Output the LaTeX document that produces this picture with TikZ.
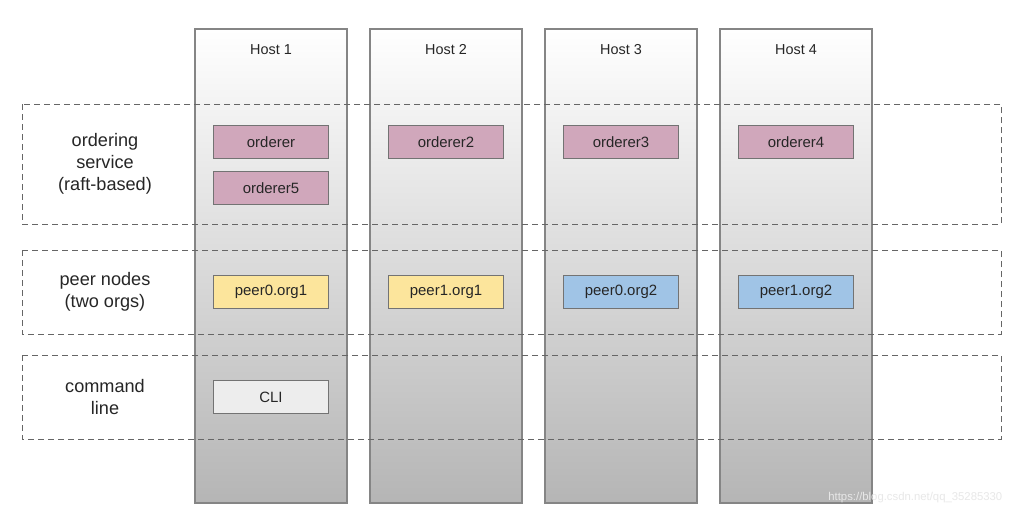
\documentclass[tikz,border=0pt]{standalone}
\usepackage{fontspec}
\setmainfont{Liberation Sans}
\begin{document}
\begin{tikzpicture}[x=0.75pt,y=-0.75pt,
  hostcol/.style={draw=black!48,line width=0.8pt,top color=white,bottom color=black!29,shading angle=0},
  layer/.style={draw=black!60,dashed,dash pattern=on 4.5pt off 3pt,line width=0.7pt},
  hostlabel/.style={font=\fontsize{10.8}{12}\selectfont,text=black!85},
  layerlabel/.style={font=\fontsize{13.6}{16.3}\selectfont,align=center,text=black!85},
  svc/.style={draw=black!55,line width=0.7pt,minimum width=86.25pt,minimum height=24.75pt,
    inner sep=0pt,font=\fontsize{11.2}{13}\selectfont,text=black!85},
  orderer/.style={svc,fill=orderpink},
  peerA/.style={svc,fill=peeryellow},
  peerB/.style={svc,fill=peerblue},
  cli/.style={svc,fill=black!7}]
\definecolor{orderpink}{HTML}{D0A7BB}
\definecolor{peeryellow}{HTML}{FCE59C}
\definecolor{peerblue}{HTML}{A0C4E6}
\useasboundingbox (0,0) rectangle (1021,518);
\fill[white] (0,0) rectangle (1021,518);
% host columns
\foreach \x/\n in {195/1,370/2,545/3,720/4}{
  \shade[hostcol] (\x,29) rectangle (\x+152,503);
  \node[hostlabel] (host\n) at (\x+76,50) {Host \n};
}
% layers
\draw[layer] (22,104) rectangle (1001,224);
\draw[layer] (22,250) rectangle (1001,334);
\draw[layer] (22,355) rectangle (1001,439);
\node[layerlabel] (lord) at (105,164) {ordering\\service\\(raft-based)};
\node[layerlabel] (lpeer) at (105,292) {peer nodes\\(two orgs)};
\node[layerlabel] (lcli) at (105,397) {command\\line};
% orderers
\node[orderer] (o1) at (271,142) {orderer};
\node[orderer] (o5) at (271,188) {orderer5};
\node[orderer] (o2) at (446,142) {orderer2};
\node[orderer] (o3) at (621,142) {orderer3};
\node[orderer] (o4) at (796,142) {orderer4};
% peers
\node[peerA] (p01) at (271,292) {peer0.org1};
\node[peerA] (p11) at (446,292) {peer1.org1};
\node[peerB] (p02) at (621,292) {peer0.org2};
\node[peerB] (p12) at (796,292) {peer1.org2};
% CLI
\node[cli] (c1) at (271,397) {CLI};
% watermark
\node[text=black!9,font=\fontsize{8.5}{10}\selectfont,anchor=east] (wm) at (1007,498) {https://blog.csdn.net/qq\_35285330};
\end{tikzpicture}
\end{document}
